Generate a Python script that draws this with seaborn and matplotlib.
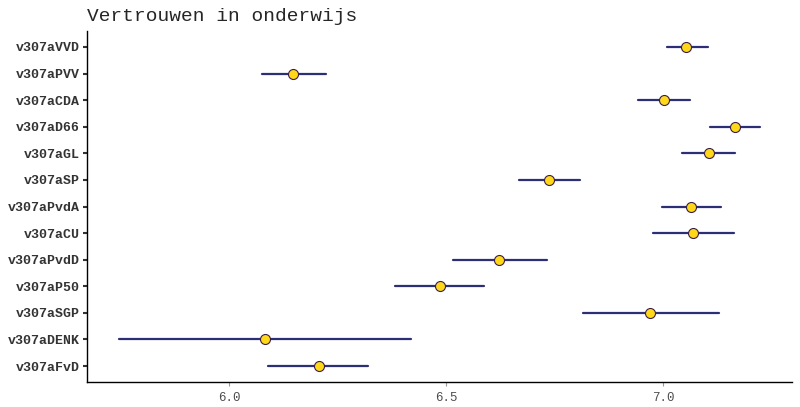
import matplotlib
matplotlib.use("Agg")
import matplotlib.pyplot as plt
import seaborn as sns
import pandas as pd

# estimates with lower / upper bounds, top to bottom
parties = ["v307aVVD", "v307aPVV", "v307aCDA", "v307aD66", "v307aGL", "v307aSP",
           "v307aPvdA", "v307aCU", "v307aPvdD", "v307aP50", "v307aSGP", "v307aDENK",
           "v307aFvD"]
est = [7.053, 6.147, 7.002, 7.166, 7.106, 6.737, 7.065, 7.069, 6.622, 6.486, 6.970, 6.083, 6.207]
lo = [7.009, 6.076, 6.942, 7.108, 7.044, 6.668, 6.998, 6.977, 6.516, 6.382, 6.816, 5.747, 6.090]
hi = [7.104, 6.224, 7.062, 7.224, 7.166, 6.809, 7.134, 7.164, 6.733, 6.588, 7.129, 6.419, 6.320]

xticks = [6.0, 6.5, 7.0]

# long table: median of (lo, est, hi) is the estimate, full range is the interval
df = pd.DataFrame({
    "party": parties * 3,
    "value": lo + est + hi,
})

sns.set_style("white")
plt.rcParams["font.family"] = ["Liberation Mono", "DejaVu Sans Mono"]

fig = plt.figure(figsize=(8, 4.07), dpi=100)
ax = fig.add_axes([0.10875, 0.0614, 0.88125, 0.8624])

navy = "#2c2f75"
sns.pointplot(data=df, x="value", y="party", order=parties,
              estimator="median", errorbar=("pi", 100),
              linestyle="none", color=navy, marker="o", markersize=7.2,
              markerfacecolor="#FFD81A", markeredgecolor="#3a1e48",
              markeredgewidth=0.8,
              err_kws={"linewidth": 1.6, "color": navy, "zorder": 1},
              ax=ax)
for line in ax.lines:
    if line.get_marker() == "o":
        line.set_zorder(3)

ax.set_xlim(5.673, 7.297)
ax.set_ylim(len(parties) - 1 + 0.6, -0.6)
ax.set_xticks(xticks)
ax.set_xticklabels([f"{t:.1f}" for t in xticks], fontsize=9, color="#4d4d4d")
ax.set_yticklabels(parties, fontsize=9.5, fontweight="bold", color="#333333")
ax.set_xlabel("")
ax.set_ylabel("")

for s in ["top", "right"]:
    ax.spines[s].set_visible(False)
for s in ["left", "bottom"]:
    ax.spines[s].set_color("black")
    ax.spines[s].set_linewidth(1.0)

ax.tick_params(axis="y", length=3, width=1.5, color="#333333", left=True, pad=2)
ax.tick_params(axis="x", length=3, width=0.8, color="#999999", bottom=True, pad=4)

ax.set_title("Vertrouwen in onderwijs", loc="left", fontsize=14, pad=7)

fig.savefig("out.png", dpi=100)
